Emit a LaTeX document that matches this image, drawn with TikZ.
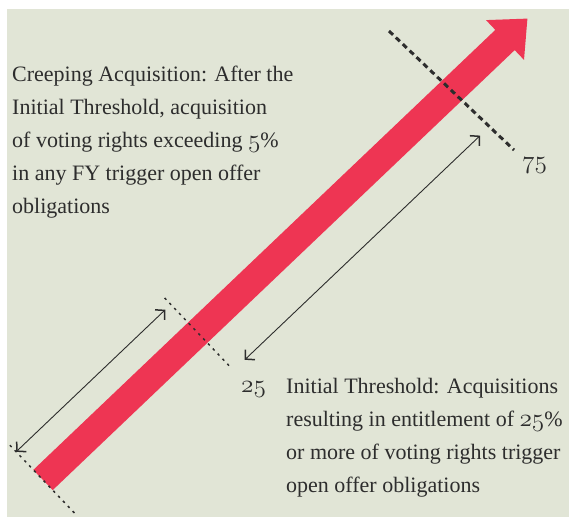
\documentclass[tikz,border=0pt]{standalone}
\usepackage{graphicx}
\usepackage{fontspec}
\setmainfont{Liberation Serif}
\usetikzlibrary{arrows.meta}
\definecolor{bgc}{RGB}{225,229,214}
\definecolor{barred}{RGB}{238,53,83}
\definecolor{ink}{RGB}{45,45,45}
\newcommand{\osn}[1]{\scalebox{1.22}{$\mathnormal{#1}$}}
\tikzset{
  thindots/.style={draw=ink, line width=1.5pt, dash pattern=on 2.5pt off 4.5pt},
  thickdash/.style={draw=ink, line width=3pt, dash pattern=on 5.5pt off 4pt},
  dimarrow/.style={draw=ink, line width=0.9pt, {Straight Barb[length=6.5pt,width=14pt,line width=1.5pt]}-{Straight Barb[length=6.5pt,width=14pt,line width=1.5pt]}},
  txt/.style={inner sep=0pt, text=ink, align=left, font=\fontsize{22}{33}\selectfont},
  numlbl/.style={inner sep=0pt, text=ink, font=\fontsize{22}{26}\selectfont}
}
\begin{document}
\begin{tikzpicture}[x=1pt,y=-1pt]
\useasboundingbox (0,0) rectangle (569,517);
\fill[white] (0,0) rectangle (569,517);
\fill[bgc] (7,9) rectangle (569,517);
% main arrow
\coordinate (t1) at (33.3,469.9);
\coordinate (t2) at (52.7,490.1);
\coordinate (s1) at (495.3,29.9);
\coordinate (s2) at (514.7,50.1);
\coordinate (h1) at (486.0,20.1);
\coordinate (h2) at (524.0,59.9);
\coordinate (tip) at (527.4,18.6);
\fill[barred] (t1) -- (s1) -- (h1) -- (tip) -- (h2) -- (s2) -- (t2) -- cycle;
% dashed markers
\coordinate (d1a) at (9.9,445.2);
\coordinate (d1b) at (75.4,514.0);
\coordinate (d2a) at (164.6,297.9);
\coordinate (d2b) at (230.8,367.5);
\coordinate (d3a) at (389,31);
\coordinate (d3b) at (514,150);
\draw[thindots] (d1a) -- (d1b);
\draw[thindots] (d2a) -- (d2b);
\draw[thickdash] (d3a) -- (d3b);
% dimension arrows
\coordinate (a1) at (16.1,451.8);
\coordinate (a2) at (165.3,309.7);
\coordinate (b1) at (244.7,359.8);
\coordinate (b2) at (480.1,135.6);
\draw[dimarrow] (a1) -- (a2);
\draw[dimarrow] (b1) -- (b2);
% labels
\node[numlbl, anchor=base west] (n25) at (241,392) {\osn{25}};
\node[numlbl, anchor=base west] (n75) at (522,168) {\osn{75}};
\node[txt, anchor=north west] (creep) at (12,66) {Creeping Acquisition: After the\\Initial Threshold, acquisition\\of voting rights exceeding \osn{5}\%\\in any FY trigger open offer\\obligations};
\node[txt, anchor=north west] (init) at (286,378) {Initial Threshold: Acquisitions\\resulting in entitlement of \osn{25}\%\\or more of voting rights trigger\\open offer obligations};
\end{tikzpicture}
\end{document}
